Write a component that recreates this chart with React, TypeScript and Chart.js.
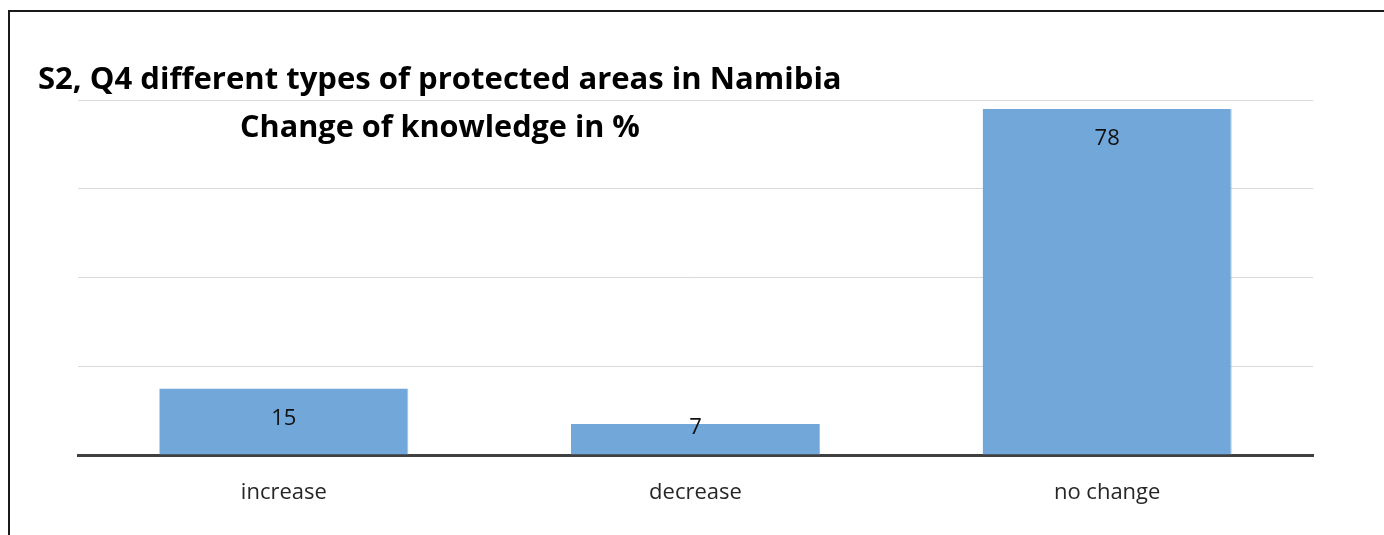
import React, { useEffect, useRef } from "react";
import { Chart, registerables } from "chart.js";

Chart.register(...registerables);

const categories = ["increase", "decrease", "no change"];
const values = [15, 7, 78];
const titleLine1 = "S2, Q4 different types of protected areas in Namibia";
const titleLine2 = "Change of knowledge in %";

const FONT = "'Open Sans', sans-serif";

function fitFont(ctx: CanvasRenderingContext2D, text: string, target: number, base: number) {
  ctx.font = `bold ${base}px ${FONT}`;
  const w = ctx.measureText(text).width;
  const size = (base * target) / w;
  ctx.font = `bold ${size}px ${FONT}`;
}

const labelsPlugin = {
  id: "customLabels",
  afterDatasetsDraw(chart: any) {
    const ctx = chart.ctx;
    const meta = chart.getDatasetMeta(0);
    const base = chart.scales.y.getPixelForValue(0);
    ctx.save();
    ctx.fillStyle = "#111";
    ctx.font = `22px ${FONT}`;
    ctx.textAlign = "center";
    ctx.textBaseline = "middle";
    meta.data.forEach((bar: any, i: number) => {
      const y = Math.min(bar.y + 30, base - 27);
      ctx.fillText(String(values[i]), bar.x, y);
    });
    ctx.restore();
  },
  afterDraw(chart: any) {
    const ctx = chart.ctx;
    ctx.save();
    ctx.fillStyle = "#000";
    ctx.textBaseline = "middle";
    ctx.textAlign = "left";
    fitFont(ctx, titleLine1, 804, 30);
    ctx.fillText(titleLine1, 38, 80);
    ctx.textAlign = "center";
    fitFont(ctx, titleLine2, 400, 30);
    ctx.fillText(titleLine2, 440, 128);
    ctx.restore();
  },
};

export default function App() {
  const ref = useRef<HTMLCanvasElement>(null);
  useEffect(() => {
    if (!ref.current) return;
    const chart = new Chart(ref.current, {
      type: "bar",
      data: {
        labels: categories,
        datasets: [
          {
            data: values,
            backgroundColor: "#72a7da",
            borderColor: "#9cc3e8",
            borderWidth: { right: 1, left: 0, top: 0, bottom: 0 } as any,
            barPercentage: 0.605,
            categoryPercentage: 1,
          },
        ],
      },
      options: {
        responsive: false,
        animation: false,
        layout: { padding: { left: 78, right: 71, top: 100, bottom: 0 } },
        plugins: { legend: { display: false }, tooltip: { enabled: false }, title: { display: false } },
        scales: {
          x: {
            grid: { display: false, drawTicks: false },
            border: { display: true, color: "#404040", width: 3 },
            ticks: { color: "#262626", font: { family: FONT, size: 22 }, padding: 25 },
            afterFit: (s: any) => {
              s.height = 80;
            },
          },
          y: {
            min: 0,
            max: 80,
            ticks: { display: false, stepSize: 20 },
            grid: { color: "#d9d9d9", lineWidth: 1, drawTicks: false },
            border: { display: false },
            afterFit: (s: any) => {
              s.width = 0;
            },
          },
        },
      },
      plugins: [labelsPlugin],
    });
    return () => chart.destroy();
  }, []);
  return (
    <div style={{ position: "fixed", left: 0, top: 0, width: 1384, height: 535, background: "#fff" }}>
      <canvas ref={ref} width={1384} height={535} style={{ position: "absolute", left: 0, top: 0 }} />
      <div
        style={{
          position: "absolute",
          left: 8,
          top: 10,
          width: 1400,
          height: 600,
          borderTop: "2px solid #1a1a1a",
          borderLeft: "2px solid #1a1a1a",
          pointerEvents: "none",
        }}
      />
    </div>
  );
}
